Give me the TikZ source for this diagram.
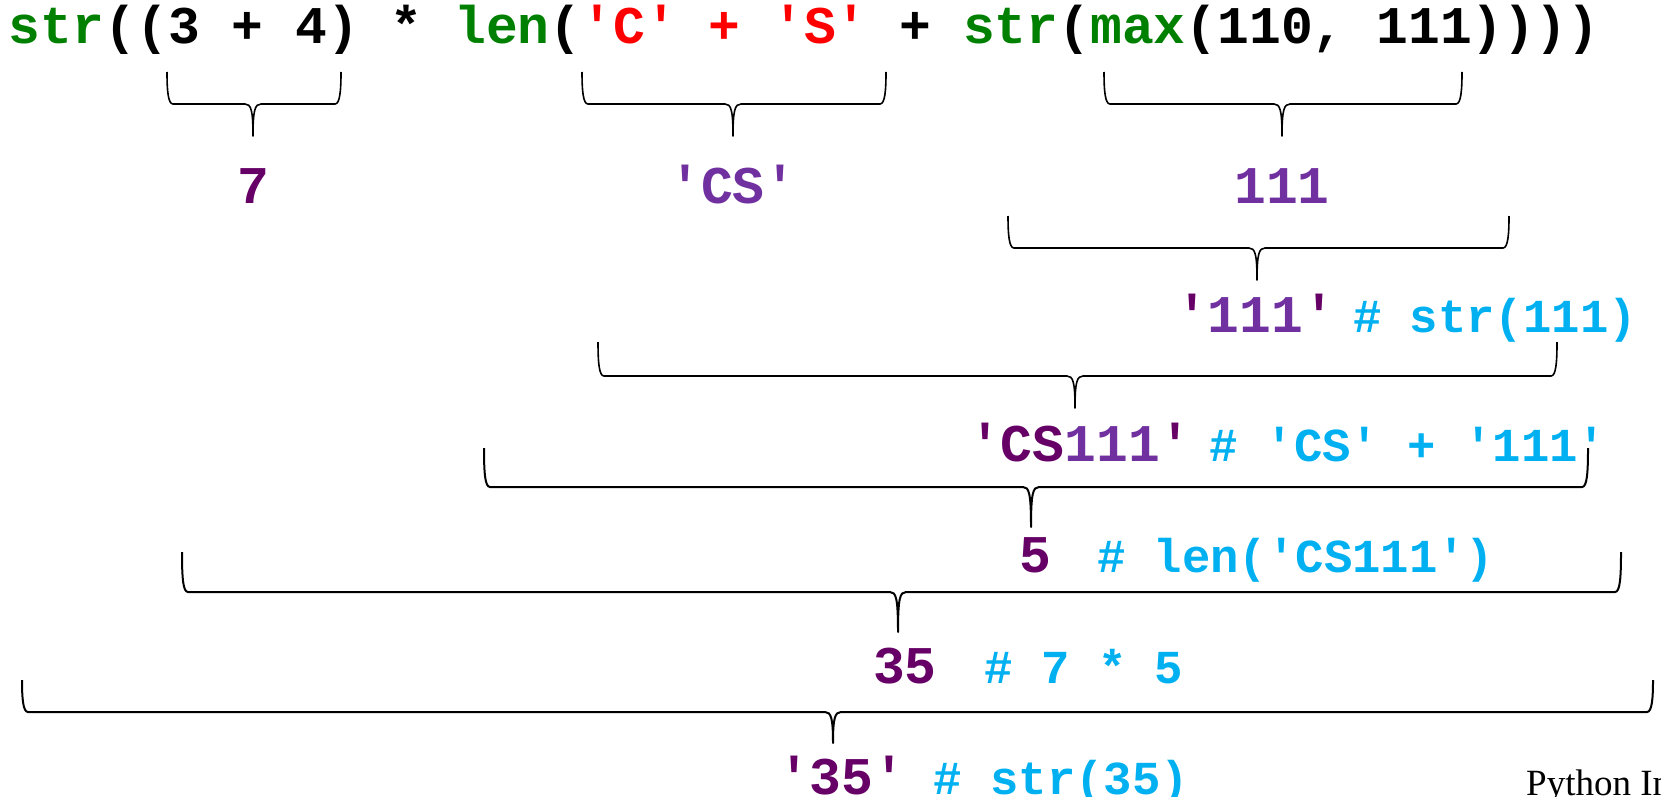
\documentclass[tikz,border=0pt]{standalone}
\usepackage{fontspec}
\setmonofont{Liberation Mono}
\newfontfamily\pyserif{Liberation Serif}
\definecolor{grn}{HTML}{008000}
\definecolor{dpur}{HTML}{660066}
\definecolor{lpur}{HTML}{7030A0}
\definecolor{cy}{HTML}{00B0F0}
\definecolor{rd}{HTML}{FF0000}
\tikzset{
  main/.style={font=\fontsize{53}{60}\selectfont\ttfamily\bfseries, inner sep=0pt, outer sep=0pt},
  cmt/.style={font=\fontsize{47.3}{54}\selectfont\ttfamily\bfseries, text=cy, inner sep=0pt, outer sep=0pt},
  brc/.style={draw=black, line width=1.6pt, line join=round},
  brcb/.style={draw=black, line width=2pt, line join=round}
}
% style x1 x2 xm ytop ybar ybot
\newcommand\mybrace[7]{%
  \draw[#1] (#2,#5) .. controls (#2,#6-14) and (#2+1,#6) .. (#2+6,#6)
    -- (#4-8,#6) .. controls (#4-2,#6) and (#4,#6+6) .. (#4,#7)
    .. controls (#4,#6+6) and (#4+2,#6) .. (#4+8,#6)
    -- (#3-6,#6) .. controls (#3-1,#6) and (#3,#6-14) .. (#3,#5);}
\begin{document}
\begin{tikzpicture}[x=1pt,y=-1pt]
\useasboundingbox (0,0) rectangle (1661,797);
% top expression
\node[main, anchor=base west] (expr) at (9,44) {\textcolor{grn}{str}((3 + 4) * \textcolor{grn}{len}(\textcolor{rd}{'C' + 'S'} + \textcolor{grn}{str}(\textcolor{grn}{max}(110, 111))))};
% first-level braces
\mybrace{brc}{167}{341}{253}{72}{104}{136}
\mybrace{brc}{582}{886}{733}{72}{104}{136}
\mybrace{brc}{1104}{1462}{1282}{72}{104}{136}
\node[main, text=dpur, anchor=base] (v7) at (253.5,203) {7};
\node[main, text=lpur, anchor=base] (vcs) at (733,203) {'CS'};
\node[main, text=lpur, anchor=base] (v111) at (1282,203) {111};
% str(111)
\mybrace{brc}{1008}{1509}{1257}{216}{248}{280}
\node[main, anchor=base west] (s111) at (1176,332) {\textcolor{dpur}{'}\textcolor{lpur}{111}\textcolor{dpur}{'}};
\node[cmt, anchor=base west] (c1) at (1353,332) {\# str(111)};
% 'CS' + '111'
\mybrace{brc}{598}{1557}{1075}{342}{376}{408}
\node[main, anchor=base west] (cs111) at (969,461) {\textcolor{dpur}{'CS}\textcolor{lpur}{111}\textcolor{dpur}{'}};
\node[cmt, anchor=base west] (c2) at (1209,461) {\# 'CS' + '111'};
% len
\mybrace{brcb}{484}{1588}{1031}{448}{487}{527}
\node[main, text=dpur, anchor=base] (v5) at (1035.5,572) {5};
\node[cmt, anchor=base west] (c3) at (1097,572) {\# len('CS111')};
% 7 * 5
\mybrace{brcb}{182}{1621}{898}{552}{592}{632}
\node[main, text=dpur, anchor=base west] (v35) at (873,683) {35};
\node[cmt, anchor=base west] (c4) at (984.5,683) {\# 7 * 5};
% str(35)
\mybrace{brcb}{22}{1653}{833}{680}{712}{743}
\node[main, text=dpur, anchor=base west] (s35) at (778,794) {'35'};
\node[cmt, anchor=base west] (c5) at (933.5,794) {\# str(35)};
\node[font=\fontsize{37}{42}\selectfont\pyserif, inner sep=0pt, anchor=base west] (foot) at (1526,795) {Python In};
\end{tikzpicture}
\end{document}
